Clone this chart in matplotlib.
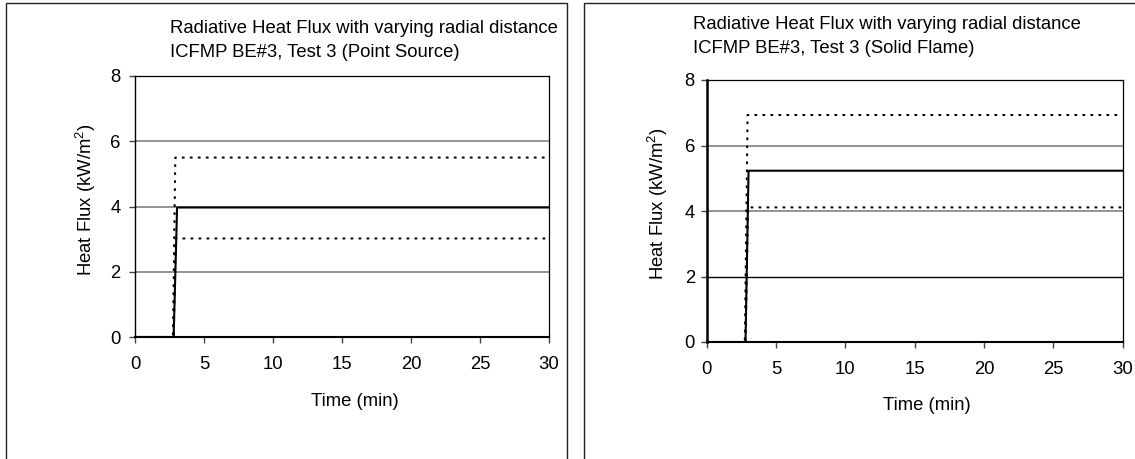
import numpy as np
import matplotlib
matplotlib.use('Agg')
import matplotlib.pyplot as plt
from matplotlib.patches import Rectangle

plt.rcParams['font.family'] = ['Liberation Sans', 'DejaVu Sans']
plt.rcParams['font.size'] = 13.3
plt.rcParams['mathtext.default'] = 'regular'

# data (time in min, heat flux in kW/m2)
ps_time = [0, 2.8, 3.05, 30]
ps_mid = [0, 0, 3.97, 3.97]
ps_hi_time = [0, 2.75, 2.92, 30]
ps_hi = [0, 0, 5.5, 5.5]
ps_lo_time = [0, 2.8, 2.95, 30]
ps_lo = [0, 0, 3.02, 3.02]

sf_time = [0, 2.8, 3.02, 30]
sf_mid = [0, 0, 5.23, 5.23]
sf_hi_time = [0, 2.75, 2.95, 30]
sf_hi = [0, 0, 6.93, 6.93]
sf_lo_time = [0, 2.8, 2.98, 30]
sf_lo = [0, 0, 4.11, 4.11]

title1 = 'Radiative Heat Flux with varying radial distance'
titles2 = ['ICFMP BE#3, Test 3 (Point Source)', 'ICFMP BE#3, Test 3 (Solid Flame)']
xticks = [0, 5, 10, 15, 20, 25, 30]
yticks = [0, 2, 4, 6, 8]

W, H = 1135, 459
fig = plt.figure(figsize=(W / 100, H / 100), dpi=100)

def fx(px):
    return px / W

def fy(py):
    return 1 - py / H

# panel frames
fig.patches.append(Rectangle((fx(6.4), fy(470)), fx(566.7) - fx(6.4), fy(3) - fy(470),
                             transform=fig.transFigure, fill=False, ec='#222222', lw=1.0))
fig.patches.append(Rectangle((fx(583.7), fy(470)), fx(1150) - fx(583.7), fy(3) - fy(470),
                             transform=fig.transFigure, fill=False, ec='#222222', lw=1.0))

dotted = (0, (1.35, 2.65))

def makePanel(box, series, title2, titlePos, xlabPos, ylabPos, lspine, tickpad, grid2black):
    x0, y0, x1, y1 = box
    ax = fig.add_axes([fx(x0), fy(y1), fx(x1) - fx(x0), fy(y0) - fy(y1)])
    ax.set_xlim(0, 30)
    ax.set_ylim(0, 8)
    ax.set_xticks(xticks)
    ax.set_yticks(yticks)
    ax.tick_params(direction='out', length=4.5, width=1.0, color='#444444')
    ax.tick_params(axis='y', pad=tickpad)
    ax.tick_params(axis='x', pad=9)
    ax.set_axisbelow(True)
    ax.yaxis.grid(True, color='#808080', lw=1.2)
    if grid2black:
        ax.get_ygridlines()[1].set_color('black')
        ax.get_ygridlines()[1].set_linewidth(1.0)
    for s in ['top', 'right']:
        ax.spines[s].set_linewidth(0.9)
    ax.spines['left'].set_linewidth(lspine)
    ax.spines['bottom'].set_linewidth(1.5)

    (tm, qm), (th, qh), (tl, ql) = series
    ax.plot(tm, qm, color='black', lw=1.5, zorder=3)
    ax.plot(th, qh, color='black', lw=1.44, ls=dotted, zorder=3)
    ax.plot(tl, ql, color='black', lw=1.44, ls=dotted, zorder=3)

    tx, ty = titlePos
    fig.text(fx(tx), fy(ty), title1, ha='left', va='baseline')
    fig.text(fx(tx), fy(ty + 24), title2, ha='left', va='baseline')
    fig.text(fx(xlabPos[0]), fy(xlabPos[1]), 'Time (min)', ha='center', va='center')
    fig.text(fx(ylabPos[0]), fy(ylabPos[1]), 'Heat Flux (kW/m$^{2}$)', ha='center', va='center',
             rotation=90)
    return ax

makePanel((135, 76, 549, 337),
          [(ps_time, ps_mid), (ps_hi_time, ps_hi), (ps_lo_time, ps_lo)],
          titles2[0], (170, 32.7), (355, 402), (86, 200), 1.0, 6, False)
makePanel((706.7, 80, 1122.5, 342),
          [(sf_time, sf_mid), (sf_hi_time, sf_hi), (sf_lo_time, sf_lo)],
          titles2[1], (692.7, 29.3), (927, 406), (658, 204), 1.8, 4, True)

fig.savefig('out.png', dpi=100)
